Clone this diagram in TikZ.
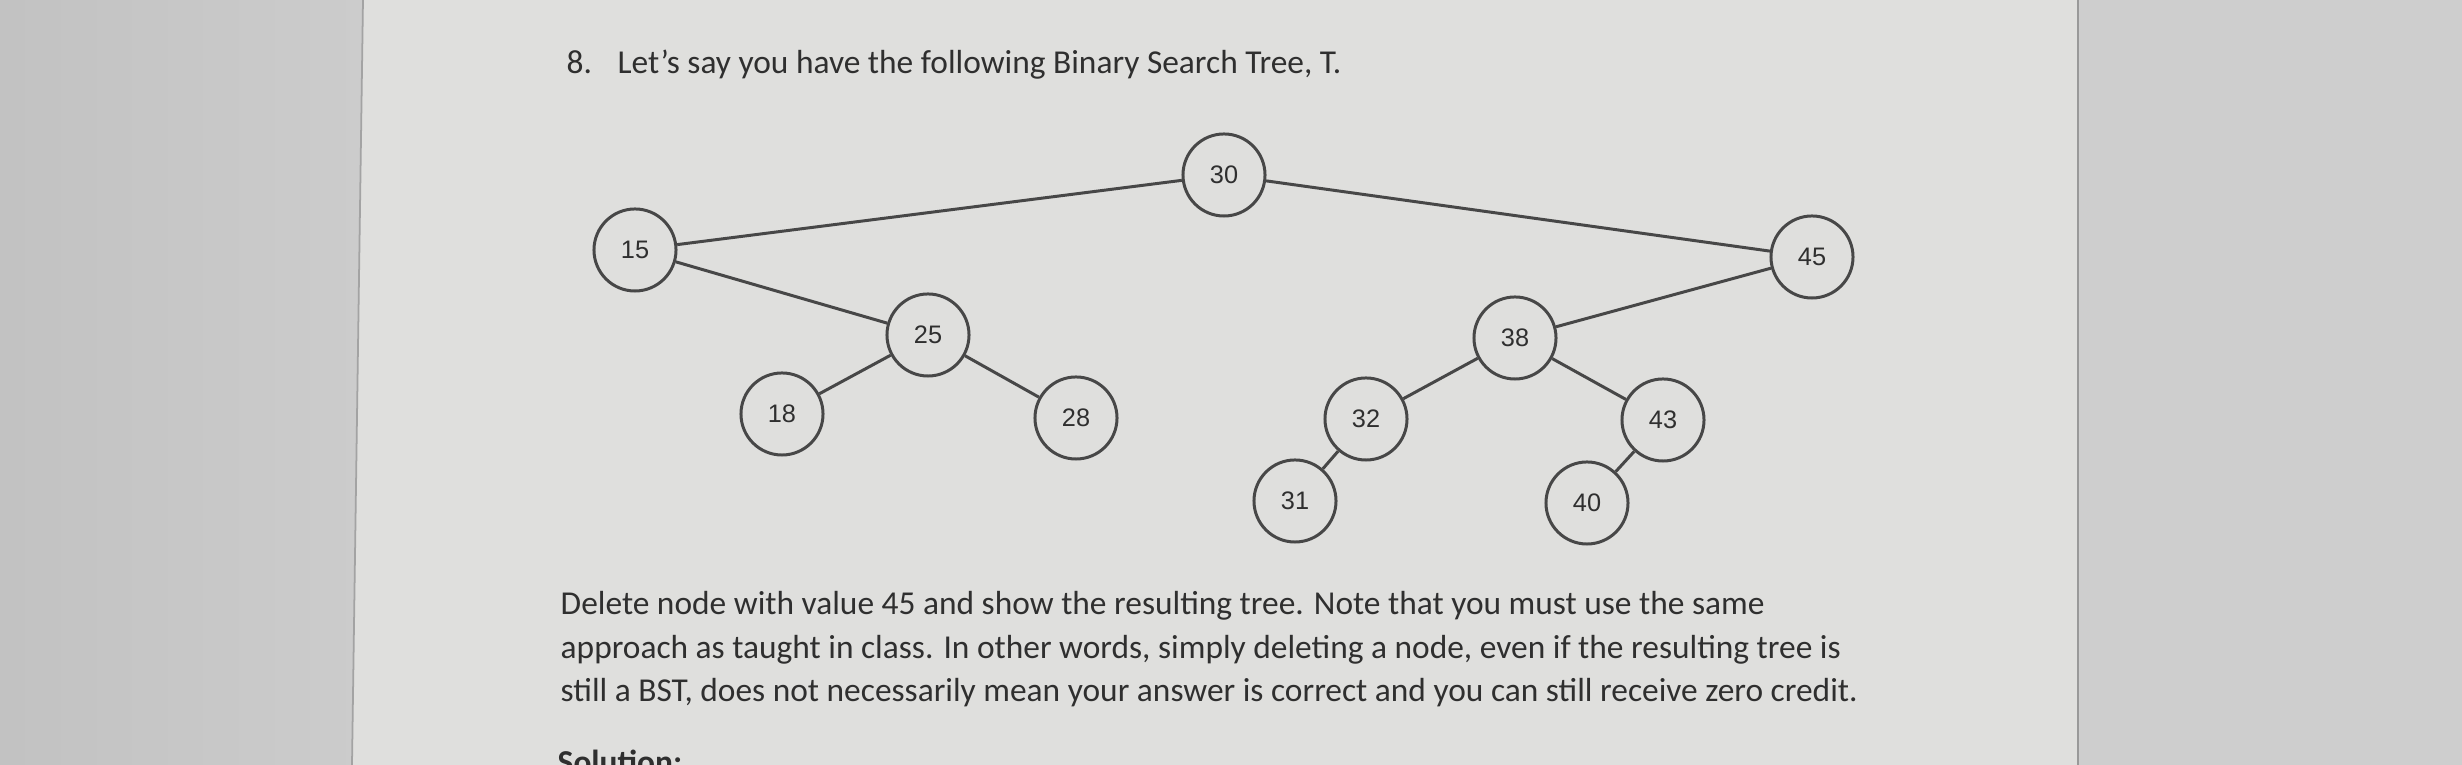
\documentclass[tikz,border=0pt]{standalone}
\usepackage{fontspec}
\setmainfont{Carlito}
\newfontfamily\treefont{Liberation Sans}
\usetikzlibrary{positioning}
\definecolor{wallgray}{HTML}{CCCCCC}
\definecolor{papergray}{HTML}{DFDFDD}
\definecolor{inkgray}{HTML}{2F2F2F}
\definecolor{linegray}{HTML}{474747}

\begin{document}
\begin{tikzpicture}[x=0.01cm, y=-0.01cm,
    bst/.style={circle, draw=linegray, line width=0.85pt, minimum size=0.82cm, inner sep=0pt,
        text=inkgray, font=\treefont\fontsize{7.2pt}{8pt}\selectfont},
    link/.style={draw=linegray, line width=0.85pt},
    para/.style={anchor=base west, inner sep=0pt, text=inkgray, font=\fontsize{9.5pt}{11pt}\selectfont}]
    \useasboundingbox (0,0) rectangle (2462,765);
    \clip (0,0) rectangle (2462,765);
    % desk and sheet
    \fill[left color=wallgray!95!black, right color=wallgray] (0,0) rectangle (363,765);
    \fill[wallgray!97!white] (2078,0) rectangle (2462,765);
    \fill[papergray] (363,0) -- (2078,0) -- (2078,765) -- (352,765) -- cycle;
    \draw[wallgray!80!black, line width=0.5pt] (363,0) -- (352,765);
    \draw[wallgray!75!black, line width=0.6pt] (2078,0) -- (2078,765);

    % question
    \node[para] (qnum) at (566,74) {8.};
    \node[para] (qtext) at (617,74) {Let’s say you have the following Binary Search Tree, T.};

    % the tree
    \node[bst] (n30) at (1224,175) {30};
    \node[bst] (n15) at (635,250) {15};
    \node[bst] (n45) at (1812,257) {45};
    \node[bst] (n25) at (928,335) {25};
    \node[bst] (n38) at (1515,338) {38};
    \node[bst] (n18) at (782,414) {18};
    \node[bst] (n28) at (1076,418) {28};
    \node[bst] (n32) at (1366,419) {32};
    \node[bst] (n43) at (1663,420) {43};
    \node[bst] (n31) at (1295,501) {31};
    \node[bst] (n40) at (1587,503) {40};

    \path[link]
        (n30) edge (n15)
        (n30) edge (n45)
        (n15) edge (n25)
        (n25) edge (n18)
        (n25) edge (n28)
        (n45) edge (n38)
        (n38) edge (n32)
        (n38) edge (n43)
        (n32) edge (n31)
        (n43) edge (n40);

    % task text
    \node[para] (line1) at (560,615) {Delete node with value 45 and show the resulting tree. Note that you must use the same};
    \node[para] (line2) at (560,659) {approach as taught in class. In other words, simply deleting a node, even if the resulting tree is};
    \node[para] (line3) at (560,702) {still a BST, does not necessarily mean your answer is correct and you can still receive zero credit.};
    \node[para, font=\bfseries\fontsize{9.5pt}{11pt}\selectfont] (soln) at (557,774) {Solution:};
\end{tikzpicture}
\end{document}
